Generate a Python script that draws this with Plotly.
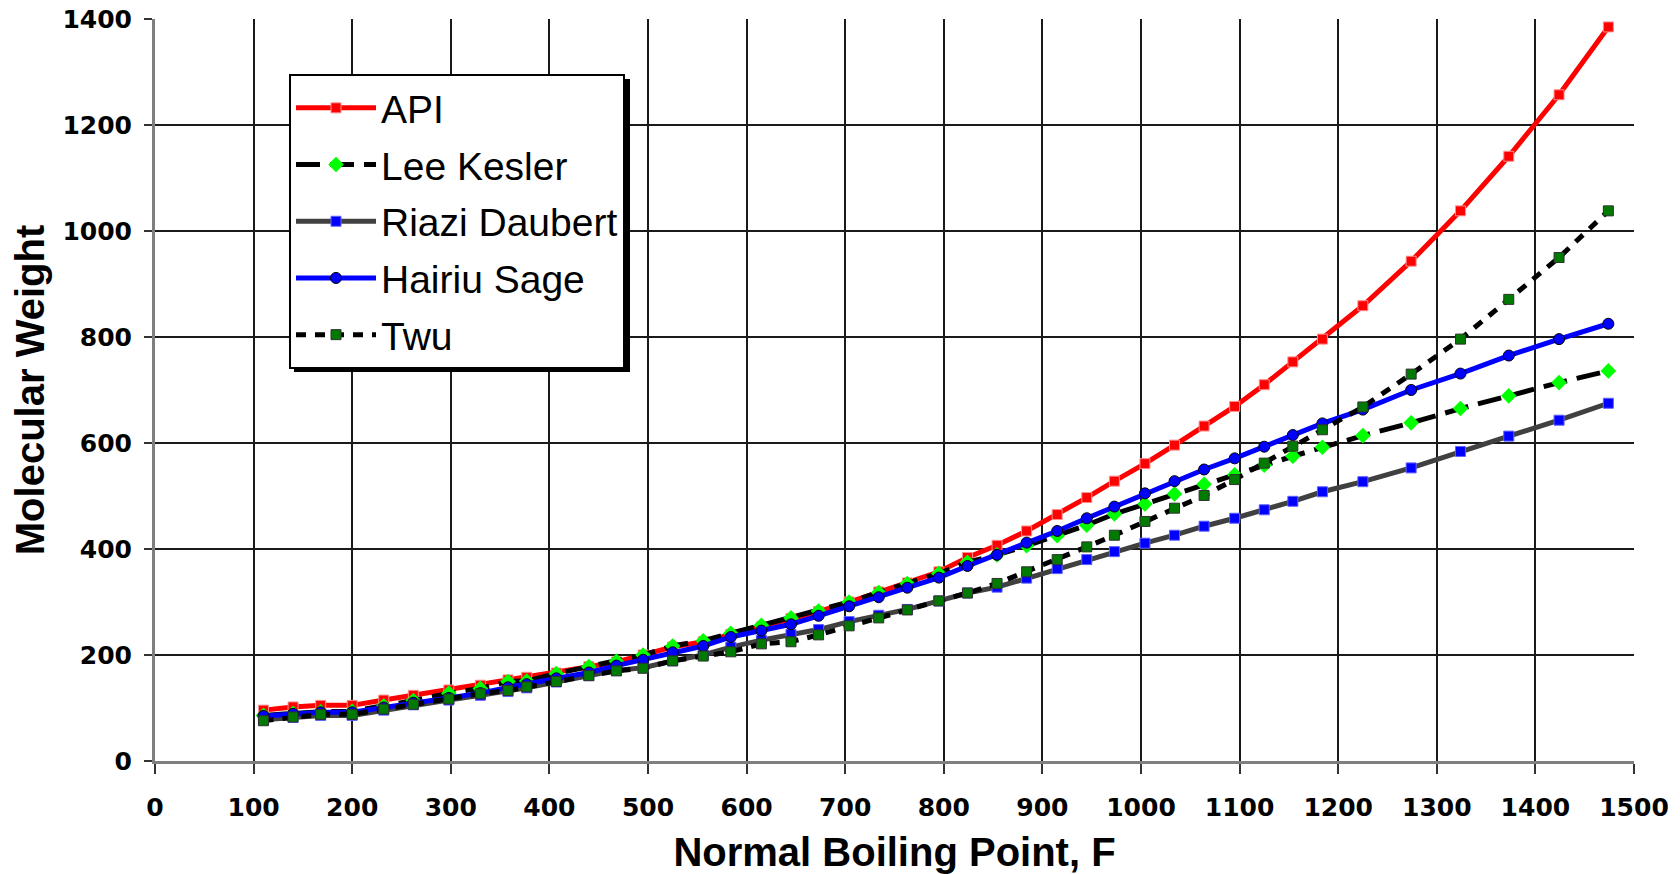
import plotly.graph_objects as go

# Normal boiling point, F
boiling_point = [110, 140, 168, 200, 232, 262, 298, 330, 358, 377,
                 407, 440, 468, 495, 525, 556, 584, 615, 645, 673,
                 704, 734, 763, 795, 824, 854, 884, 915, 945, 973,
                 1004, 1034, 1064, 1095, 1125, 1154, 1184, 1225, 1274, 1324,
                 1373, 1424, 1474]

api = [96, 102, 105, 105, 115, 124, 134, 143, 153, 158,
       166, 178, 187, 200, 215, 225, 239, 253, 269, 282,
       300, 319, 336, 357, 384, 407, 434, 465, 497, 528,
       561, 596, 632, 669, 710, 753, 796, 859, 943, 1038,
       1141, 1257, 1385]

lee_kesler = [86, 90, 93, 94, 104, 114, 128, 137, 150, 151,
              165, 178, 188, 200, 217, 227, 241, 256, 270, 283,
              300, 318, 335, 354, 375, 389, 406, 425, 445, 466,
              485, 504, 522, 540, 558, 575, 592, 614, 638, 665,
              689, 714, 736]

riazi_daubert = [78, 82, 86, 86, 96, 106, 115, 124, 131, 138,
                 149, 161, 171, 176, 189, 200, 215, 228, 239, 248,
                 263, 275, 286, 302, 317, 328, 345, 363, 380, 395,
                 411, 426, 443, 458, 474, 490, 508, 527, 553, 584,
                 613, 643, 675]

hairiu_sage = [85, 89, 92, 92, 101, 110, 119, 128, 139, 145,
               156, 167, 180, 191, 205, 217, 234, 246, 258, 274,
               292, 309, 327, 346, 368, 389, 412, 434, 458, 480,
               505, 528, 550, 571, 593, 615, 637, 663, 700, 731,
               765, 796, 825]

twu = [76, 83, 88, 88, 98, 107, 117, 127, 133, 140,
       150, 161, 170, 175, 189, 198, 206, 221, 225, 238,
       255, 270, 285, 302, 317, 335, 357, 380, 404, 426,
       452, 477, 501, 531, 562, 594, 625, 668, 730, 796,
       871, 950, 1038]

x_ticks = list(range(0, 1501, 100))
y_ticks = list(range(0, 1401, 200))

series = [
    ("API", api, dict(color="#ff0000", width=5),
     dict(symbol="square", size=10, color="#ff0000", line=dict(color="#ff9090", width=1))),
    ("Lee Kesler", lee_kesler, dict(color="#000000", width=5, dash="24px,10px"),
     dict(symbol="diamond", size=12, color="#00ff00", line=dict(width=0))),
    ("Riazi Daubert", riazi_daubert, dict(color="#404040", width=5),
     dict(symbol="square", size=10, color="#0000ff", line=dict(color="#6060ff", width=1))),
    ("Hairiu Sage", hairiu_sage, dict(color="#0000ff", width=5),
     dict(symbol="circle", size=11, color="#0000ff", line=dict(color="#000000", width=1))),
    ("Twu", twu, dict(color="#000000", width=5, dash="10px,9px"),
     dict(symbol="square", size=10, color="#007a00", line=dict(color="#303030", width=1))),
]

fig = go.Figure()
for name, ys, line, marker in series:
    fig.add_trace(go.Scatter(x=boiling_point, y=ys, name=name, mode="lines+markers",
                             line=line, marker=marker, legendgroup=name))

# the page body has an 8px margin, so the figure is made 8px smaller
OFF = 8
W, H = 1680 - OFF, 874 - OFF
L, R, T, B = 155 - OFF, 46, 19 - OFF, 113
pw, ph = W - L - R, H - T - B

def page_to_paper(px, py):
    return (px - OFF - L) / pw, (H - B - (py - OFF)) / ph

# legend shadow box
sx0, sy1 = page_to_paper(294, 79)
sx1, sy0 = page_to_paper(630, 372)
fig.add_shape(type="rect", xref="paper", yref="paper", x0=sx0, x1=sx1, y0=sy0, y1=sy1,
              fillcolor="#000000", line=dict(width=0), layer="above")

lx, ly = page_to_paper(289, 74)

tickfont = dict(family="DejaVu Sans", size=25, color="#000000", weight="bold")
titlefont = dict(family="Liberation Sans, Arial", size=40, color="#000000", weight="bold")

fig.update_layout(
    width=W, height=H,
    margin=dict(l=L, r=R, t=T, b=B, autoexpand=False),
    paper_bgcolor="white", plot_bgcolor="white",
    showlegend=True,
    legend=dict(x=lx, y=ly, xanchor="left", yanchor="top",
                bgcolor="white", bordercolor="#000000", borderwidth=2,
                font=dict(family="Liberation Sans, Arial", size=39, color="#000000"),
                itemwidth=80, tracegroupgap=3, traceorder="grouped"),
    xaxis=dict(range=[0, 1500], tickvals=x_ticks, ticktext=[str(v) for v in x_ticks],
               showgrid=True, gridcolor="#1a1a1a", gridwidth=1.5,
               showline=True, linecolor="#7f7f7f", linewidth=3,
               ticks="outside", ticklen=10, tickcolor="#333333", tickwidth=1.5,
               tickfont=tickfont, ticklabelstandoff=12, ticklabeloverflow="allow",
               zeroline=False,
               title=dict(text="Normal Boiling Point, F", font=titlefont, standoff=18)),
    yaxis=dict(range=[0, 1400], tickvals=y_ticks, ticktext=[str(v) for v in y_ticks],
               showgrid=True, gridcolor="#1a1a1a", gridwidth=1.5,
               showline=True, linecolor="#7f7f7f", linewidth=3,
               ticks="outside", ticklen=8, tickcolor="#333333", tickwidth=1.5,
               tickfont=tickfont, ticklabelstandoff=7, ticklabeloverflow="allow",
               zeroline=False,
               title=dict(text="Molecular Weight", font=titlefont, standoff=23)),
)

fig.write_html("out.html")
